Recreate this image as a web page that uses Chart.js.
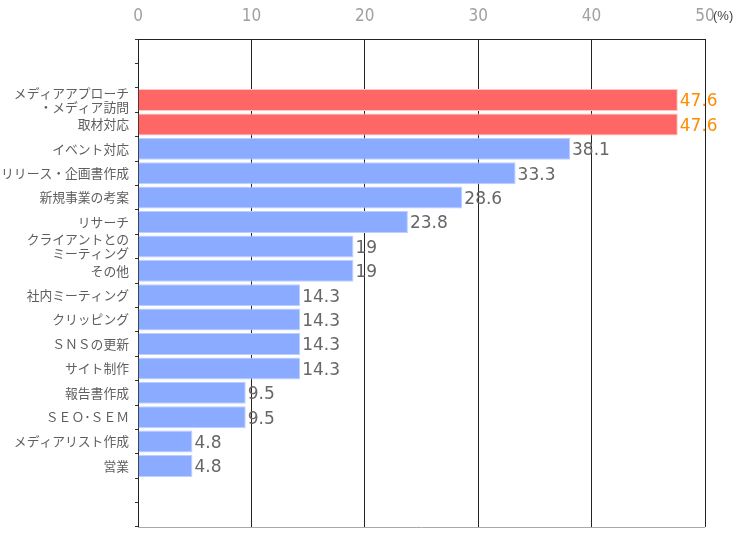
<!DOCTYPE html>
<html>
<head>
<meta charset="utf-8">
<script src="https://cdn.jsdelivr.net/npm/chart.js@4/dist/chart.umd.min.js"></script>
<style>
  html, body { margin: 0; padding: 0; background: #fff; }
  canvas { display: block; }
</style>
</head>
<body>
<canvas id="chart" width="744" height="534"></canvas>
<script>
// Chart data
const categories = [
    ['メディアアプローチ', '・メディア訪問'],
    '取材対応',
    'イベント対応',
    'リリース・企画書作成',
    '新規事業の考案',
    'リサーチ',
    ['クライアントとの', 'ミーティング'],
    'その他',
    '社内ミーティング',
    'クリッピング',
    'ＳＮＳの更新',
    'サイト制作',
    '報告書作成',
    'ＳＥＯ･ＳＥＭ',
    'メディアリスト作成',
    '営業'
];
const values = [47.6, 47.6, 38.1, 33.3, 28.6, 23.8, 19, 19, 14.3, 14.3, 14.3, 14.3, 9.5, 9.5, 4.8, 4.8];
const xTicks = [0, 10, 20, 30, 40, 50];
const unitLabel = '(%)';

// two empty rows above and below the bars
const pad = ['', ''];
const labels = [...pad, ...categories, ...pad];
const data = [null, null, ...values, null, null];

const maxValue = Math.max(...values);
const fillColors = data.map(v => v === maxValue ? '#ff6666' : '#8aabff');
const edgeColors = data.map(v => v === maxValue ? '#ffc4c4' : '#bccfff');

// value labels next to bars, plus the unit and bottom line
const extras = {
    id: 'extras',
    afterDatasetsDraw(chart) {
        const ctx = chart.ctx;
        const meta = chart.getDatasetMeta(0);
        ctx.save();
        ctx.font = '17px "DejaVu Sans", sans-serif';
        ctx.textBaseline = 'middle';
        ctx.textAlign = 'left';
        meta.data.forEach((bar, i) => {
            const v = data[i];
            if (v === null) return;
            ctx.fillStyle = v === maxValue ? '#ff8c00' : '#666666';
            ctx.fillText(String(v), bar.x + 2, bar.y + 2);
        });
        const area = chart.chartArea;
        ctx.strokeStyle = '#aaaaaa';
        ctx.lineWidth = 1;
        ctx.beginPath();
        ctx.moveTo(area.left, area.bottom + 0.5);
        ctx.lineTo(area.right, area.bottom + 0.5);
        ctx.stroke();
        ctx.font = '13px "Liberation Sans", Arial, sans-serif';
        ctx.fillStyle = '#444444';
        ctx.fillText(unitLabel, chart.scales.x.getPixelForValue(50) + 8, 16);
        ctx.restore();
    }
};

const ctx = document.getElementById('chart').getContext('2d');
new Chart(ctx, {
    type: 'bar',
    data: {
        labels: labels,
        datasets: [{
            data: data,
            backgroundColor: fillColors,
            borderColor: edgeColors,
            borderWidth: 1,
            categoryPercentage: 0.9,
            barPercentage: 1
        }]
    },
    options: {
        indexAxis: 'y',
        responsive: false,
        animation: false,
        devicePixelRatio: 1,
        layout: { padding: { left: 0, right: 39, top: 0, bottom: 7 } },
        plugins: {
            legend: { display: false },
            tooltip: { enabled: false }
        },
        scales: {
            x: {
                position: 'top',
                min: 0,
                max: 50,
                afterBuildTicks: scale => { scale.ticks = xTicks.map(v => ({ value: v })); },
                afterFit: scale => { scale.height = 39; },
                ticks: {
                    color: '#a0a0a0',
                    padding: 12,
                    font: { family: '"Liberation Sans Narrow", "DejaVu Sans Condensed", sans-serif', size: 17 }
                },
                grid: { color: '#222222', drawTicks: false },
                border: { color: '#222222' }
            },
            y: {
                afterFit: scale => {
                    scale.width = 138;
                    scale.paddingTop = 0;
                    scale.paddingBottom = 0;
                },
                ticks: {
                    autoSkip: false,
                    color: '#5e5e5e',
                    padding: 6,
                    font: { family: '"Noto Sans CJK JP", sans-serif', size: 12.8, lineHeight: 1.1 }
                },
                grid: { drawOnChartArea: false, tickLength: 3, color: '#333333' },
                border: { color: '#222222' }
            }
        }
    },
    plugins: [extras]
});
</script>
</body>
</html>
